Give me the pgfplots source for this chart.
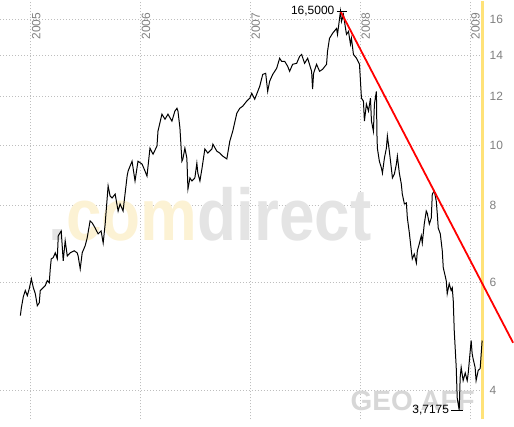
\documentclass[border=0pt]{standalone}
\usepackage{pgfplots}
\pgfplotsset{compat=1.18}
\usepackage{pgfplotstable}
\usepackage{graphicx}
\usepackage{fontspec}
\setmainfont{Liberation Sans}

\definecolor{gridgray}{RGB}{190,190,190}
\definecolor{labgray}{RGB}{128,128,128}
\definecolor{wmgray}{RGB}{228,228,228}
\definecolor{geogray}{RGB}{215,215,215}
\definecolor{wmyellow}{RGB}{252,242,212}
\definecolor{nowyellow}{RGB}{255,226,120}
\definecolor{trendred}{RGB}{255,0,0}

% GEO.AFF closing prices (decimal year, EUR)
\pgfplotstableread{
t v
2004.905 5.29
2004.914 5.45
2004.932 5.68
2004.950 5.81
2004.968 5.70
2004.986 5.85
2005.005 6.07
2005.023 5.87
2005.041 5.74
2005.059 5.49
2005.077 5.55
2005.086 5.81
2005.104 5.85
2005.132 5.92
2005.150 6.03
2005.168 5.98
2005.177 6.30
2005.186 6.54
2005.204 6.57
2005.223 6.69
2005.241 6.54
2005.250 7.13
2005.277 7.26
2005.295 6.49
2005.313 7.00
2005.332 6.61
2005.359 6.69
2005.395 6.74
2005.422 6.69
2005.431 6.61
2005.450 6.30
2005.468 6.69
2005.495 6.87
2005.513 7.07
2005.540 7.54
2005.559 7.48
2005.586 7.34
2005.613 7.18
2005.640 7.26
2005.659 6.94
2005.677 7.45
2005.704 8.59
2005.722 8.27
2005.740 8.21
2005.768 8.33
2005.795 7.82
2005.813 8.03
2005.840 7.82
2005.858 8.33
2005.877 8.91
2005.886 9.08
2005.922 9.42
2005.949 8.75
2005.976 9.42
2006.013 9.32
2006.040 9.08
2006.058 8.91
2006.085 9.89
2006.113 9.67
2006.149 9.97
2006.158 10.54
2006.194 11.23
2006.222 11.02
2006.249 11.23
2006.285 10.94
2006.312 11.36
2006.331 11.48
2006.340 11.36
2006.358 10.66
2006.376 9.42
2006.385 9.50
2006.403 9.89
2006.421 9.53
2006.431 8.49
2006.449 8.85
2006.467 8.75
2006.494 8.85
2006.512 9.35
2006.521 9.01
2006.540 8.75
2006.558 9.15
2006.585 9.86
2006.612 9.71
2006.649 9.86
2006.658 10.04
2006.694 9.78
2006.721 9.71
2006.748 9.60
2006.785 9.50
2006.812 10.15
2006.839 10.54
2006.876 11.27
2006.903 11.48
2006.930 11.57
2006.966 11.79
2006.994 11.92
2007.012 12.14
2007.039 11.88
2007.057 12.10
2007.085 12.47
2007.112 13.03
2007.139 13.08
2007.157 12.23
2007.175 12.70
2007.203 13.03
2007.239 13.33
2007.266 13.84
2007.284 13.68
2007.312 13.68
2007.339 13.43
2007.357 13.18
2007.384 13.53
2007.421 13.58
2007.448 13.94
2007.466 14.04
2007.493 13.58
2007.521 13.84
2007.557 13.18
2007.566 12.33
2007.575 13.08
2007.602 13.53
2007.630 13.18
2007.657 13.28
2007.693 13.53
2007.702 14.20
2007.720 14.91
2007.748 15.19
2007.784 15.47
2007.793 15.13
2007.820 16.50
2007.829 15.88
2007.847 16.30
2007.866 15.47
2007.875 15.13
2007.893 15.30
2007.911 14.58
2007.920 14.91
2007.938 14.04
2007.966 13.84
2007.993 13.53
2008.002 12.70
2008.011 11.92
2008.029 11.79
2008.038 10.94
2008.056 11.66
2008.075 11.36
2008.093 11.92
2008.102 10.94
2008.120 10.54
2008.129 11.66
2008.147 12.23
2008.152 10.42
2008.156 9.89
2008.174 9.42
2008.193 9.18
2008.202 9.01
2008.220 9.53
2008.238 9.89
2008.247 10.35
2008.265 9.78
2008.283 9.18
2008.293 8.85
2008.311 8.98
2008.329 9.32
2008.338 9.60
2008.356 9.01
2008.374 8.65
2008.383 8.33
2008.402 8.03
2008.420 8.06
2008.429 7.62
2008.447 7.21
2008.465 6.74
2008.474 6.54
2008.492 6.66
2008.511 6.44
2008.520 6.74
2008.538 6.92
2008.556 7.13
2008.565 6.94
2008.583 7.45
2008.601 7.82
2008.610 7.76
2008.629 7.45
2008.647 7.62
2008.656 8.33
2008.674 8.43
2008.692 8.12
2008.701 7.76
2008.710 7.34
2008.729 7.18
2008.747 6.74
2008.756 6.33
2008.783 6.03
2008.792 5.74
2008.810 5.96
2008.828 5.81
2008.838 5.87
2008.847 5.59
2008.856 5.00
2008.874 4.36
2008.883 3.89
2008.901 3.7175
2008.910 4.20
2008.919 4.36
2008.937 4.15
2008.956 4.27
2008.974 4.15
2008.983 4.26
2009.010 4.82
2009.019 4.59
2009.028 4.50
2009.046 4.36
2009.055 4.15
2009.074 4.31
2009.092 4.34
2009.110 4.82
}\kurs

\tikzset{yearlab/.style={rotate=90, anchor=north east, inner sep=1pt, text=labgray,
    font=\fontsize{12}{12}\selectfont}}

\begin{document}
\begin{tikzpicture}
\begin{axis}[
    scale only axis,
    width=484pt, height=419pt,
    ymode=log,
    xmin=2004.723, xmax=2009.119,
    ymin=3.59, ymax=17.11,
    axis line style={draw=none},
    major tick length=0pt,
    xtick={2005,2006,2007,2008,2009},
    xticklabels={},
    ytick={4,6,8,10,12,14,16},
    yticklabels={4,6,8,10,12,14,16},
    yticklabel pos=right,
    yticklabel style={anchor=west, xshift=3pt},
    ticklabel style={font=\fontsize{12}{12}\selectfont, text=labgray},
    /pgf/number format/assume math mode=true,
    grid=major,
    major grid style={gridgray, line width=0.8pt, dash pattern=on 1pt off 2pt},
    clip=false,
]
% watermarks
\node[anchor=base west, inner sep=0pt, font=\fontsize{64}{64}\bfseries\selectfont]
    at (axis cs:2005.159,7.00)
    {\scalebox{1}[1.15]{\textcolor{wmgray}{.}\textcolor{wmyellow}{com}\textcolor{wmgray}{direct}}};
\node[anchor=base west, inner sep=0pt, font=\fontsize{28}{28}\bfseries\selectfont, text=geogray]
    at (axis cs:2007.911,3.71) {GEO.AFF};

% year labels
\node[yearlab] at (axis cs:2005,16.48) {2005};
\node[yearlab] at (axis cs:2006,16.48) {2006};
\node[yearlab] at (axis cs:2007,16.48) {2007};
\node[yearlab] at (axis cs:2008,16.48) {2008};
\node[yearlab] at (axis cs:2009,16.48) {2009};

% today marker
\addplot[nowyellow, line width=3pt] coordinates {(2009.115,3.59) (2009.115,17.11)};

% price
\addplot[black, line width=1pt] table[x=t, y=v] {\kurs};

% trend line
\addplot[trendred, line width=1.8pt] coordinates {(2007.820,16.5) (2009.392,4.78)};

% high / low markers
\addplot[black, line width=1pt] coordinates {(2007.784,16.5) (2007.875,16.5)};
\node[anchor=east, inner sep=1pt, font=\fontsize{12}{12}\selectfont] at (axis cs:2007.775,16.5) {16,5000};
\addplot[black, line width=1pt] coordinates {(2008.828,3.7175) (2008.937,3.7175)};
\node[anchor=east, inner sep=1pt, font=\fontsize{12}{12}\selectfont] at (axis cs:2008.819,3.7175) {3,7175};
\end{axis}
\end{tikzpicture}
\end{document}
